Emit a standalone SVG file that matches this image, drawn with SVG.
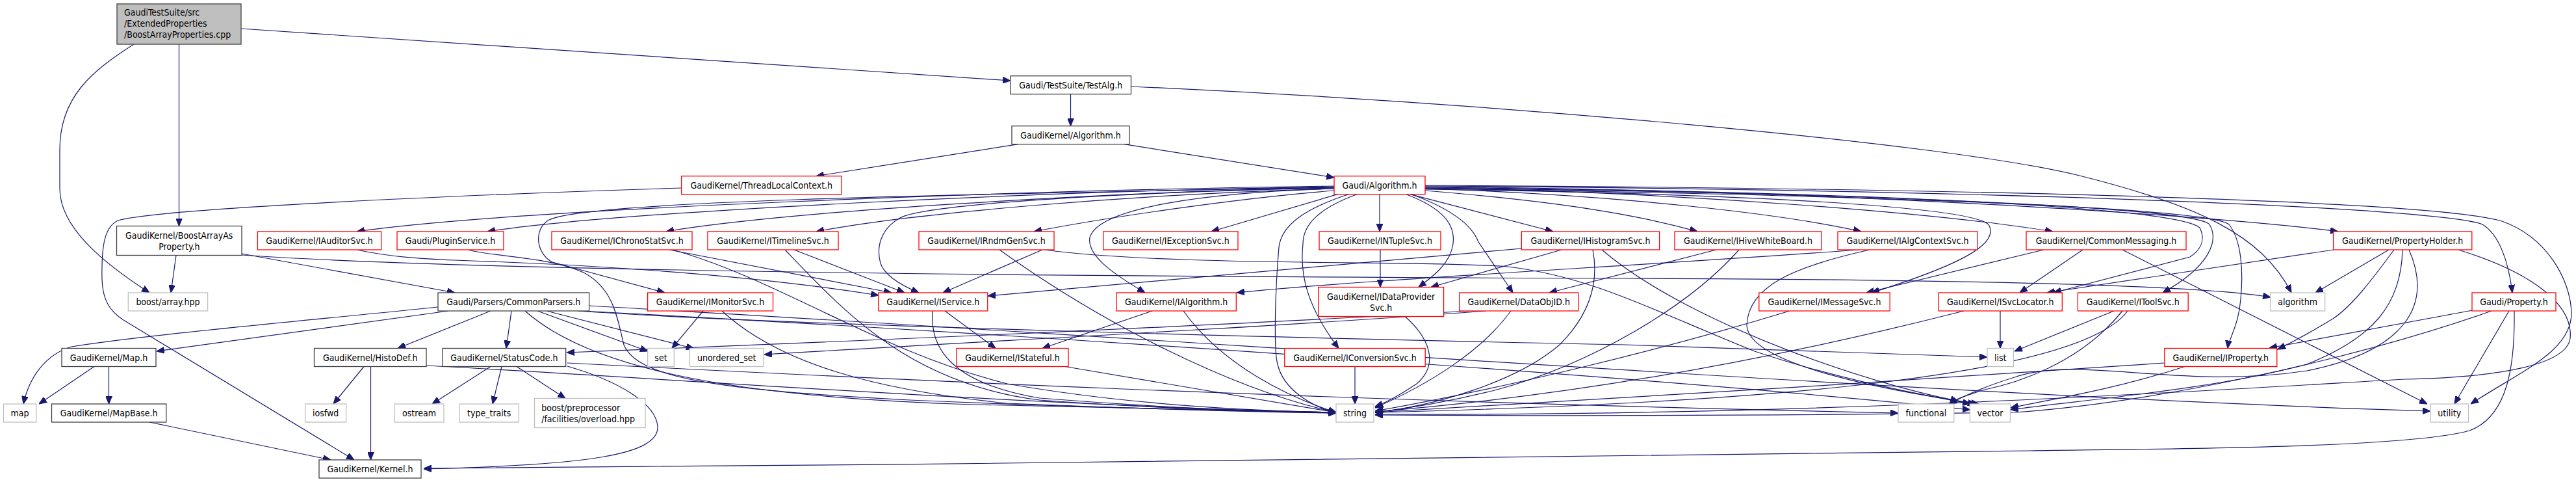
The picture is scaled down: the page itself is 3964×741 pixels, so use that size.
<svg xmlns="http://www.w3.org/2000/svg" width="3964" height="741" viewBox="0 0 3964 741">
<style>
rect{fill:#fff;stroke-width:1.3}
.k rect{stroke:#404040}
.r rect{stroke:#ff0000}
.g rect{stroke:#bfbfbf}
.root rect{fill:#bfbfbf;stroke:#404040}
text{font-family:'DejaVu Sans Condensed','Liberation Sans',Arial,sans-serif;font-size:14px;fill:#000;text-anchor:middle}
text.l{text-anchor:start}
#edges path{fill:none;stroke:#191970;stroke-width:1.2;marker-end:url(#a)}
</style>
<defs>
<marker id="a" markerUnits="userSpaceOnUse" markerWidth="12" markerHeight="10" refX="11" refY="4.5" orient="auto" viewBox="0 0 11 9"><path d="M0,0 L11,4.5 L0,9 z" fill="#191970" stroke="#191970" stroke-width="1"/></marker>
</defs>
<rect x="0" y="0" width="3964" height="741" style="fill:#fff;stroke:none"/>
<g id="edges">
<path d="M206,68 C140,110 92,150 92,230 L92,290 C92,350 160,405 230,450"/>
<path d="M275.5,68 L275.5,347.5"/>
<path d="M371,44 L1555,124"/>
<path d="M1647.5,144.7 L1647.5,193.7"/>
<path d="M1740.5,133 C2300,158 3000,220 3200,270 C3380,315 3480,360 3526,450"/>
<path d="M1567,221.7 L1256,270.7"/>
<path d="M1730,221.7 L2053,273"/>
<path d="M1048.6,289 C700,300 260,320 185,338 C160,345 156,380 157,430 C158,460 168,478 190,492 L545,707"/>
<path d="M2053,286 C1600,292 800,320 549,356"/>
<path d="M2053,287 C1600,294 950,325 750,356"/>
<path d="M2053,288 C1700,296 1200,325 1025,356"/>
<path d="M2053,290 C1750,298 1400,328 1256,356"/>
<path d="M2053,293 C1900,305 1700,335 1591,356"/>
<path d="M2058,298.7 L1864,356"/>
<path d="M2123,298.7 L2123,356"/>
<path d="M2170,298.7 L2390,356"/>
<path d="M2193,293 C2400,310 2520,330 2612,356"/>
<path d="M2193,290 C2500,300 2750,330 2864,356"/>
<path d="M2193,289 C2600,295 3000,330 3159,356"/>
<path d="M2193,287 C2800,292 3400,330 3598,356"/>
<path d="M2053,289 C1700,296 1420,315 1385,335 C1355,352 1348,380 1355,405 C1362,425 1390,440 1414,450"/>
<path d="M2053,288 C1400,300 900,310 845,338 C820,352 825,390 850,403 L1023,450"/>
<path d="M2053,290 C1850,296 1690,320 1677,365 C1672,395 1720,425 1762,450"/>
<path d="M2075,298.7 C2010,320 1972,345 1968,380 C1962,450 1960,540 1966,560 C1975,600 2020,625 2056,635"/>
<path d="M2088,298.7 C2030,320 2005,345 2005,375 C2000,420 2010,470 2060,535.5"/>
<path d="M2164,298.7 C2220,320 2240,345 2236,375 C2232,405 2205,425 2183,441.5"/>
<path d="M2172,298.7 C2230,320 2265,345 2275,372 L2328,450"/>
<path d="M2193,291 C2700,298 3030,318 3060,345 C3075,370 3040,400 2880,450"/>
<path d="M2193,288 C2900,295 3350,320 3385,350 C3395,370 3385,385 3370,395 L3160,450"/>
<path d="M2193,289 C2900,297 3380,320 3400,345 C3415,370 3400,410 3328,450"/>
<path d="M2193,290 C2900,300 3400,320 3430,345 C3450,370 3452,420 3448,460 C3445,500 3430,520 3428,535.5"/>
<path d="M2193,286 C3100,292 3760,320 3820,345 C3845,360 3860,400 3866,450"/>
<path d="M2193,285 C3100,290 3750,310 3850,340 C3920,365 3955,430 3957,480 C3958,540 3880,570 3802,621"/>
<path d="M271,392.5 L263,450"/>
<path d="M372,390 L700,450"/>
<path d="M372,392 C700,415 1500,425 2500,428 C3100,430 3400,440 3494,457"/>
<path d="M549,384 C600,395 650,398 700,400 C1000,410 1200,430 1352,454"/>
<path d="M720,384 C760,395 850,395 900,420 C945,445 950,490 960,530 C980,580 1100,600 1400,615 C1700,628 1950,633 2056,634"/>
<path d="M1030,384 L1372,450"/>
<path d="M1035,384 C1200,430 1350,540 1550,590 C1750,625 1950,632 2056,634"/>
<path d="M1222,384 L1392,450"/>
<path d="M1208,384 C1300,480 1400,590 1600,615 C1800,630 1980,633 2056,634"/>
<path d="M1604,384 L1451,450"/>
<path d="M1538,384 C1700,500 1900,600 2056,634"/>
<path d="M1607,384 C1800,410 2200,400 2320,410 C2450,425 2550,480 2700,540 C2850,590 2980,610 3032,621"/>
<path d="M2124,384 L2124,441.5"/>
<path d="M2342,382 L1520,455"/>
<path d="M2403,384 L2202,441.5"/>
<path d="M2451,384 C2460,430 2450,480 2400,530 C2330,590 2200,625 2116,634"/>
<path d="M2465,384 C2600,500 2900,600 3040,621"/>
<path d="M2641,384 L2384,450"/>
<path d="M2676,384 C2600,470 2450,560 2300,600 C2220,620 2150,630 2116,634"/>
<path d="M2862,384 C2500,410 2100,430 1903,450"/>
<path d="M2877,384 C2760,410 2690,440 2688,500 C2690,560 2900,600 3045,621"/>
<path d="M3145,384 L2872,450"/>
<path d="M3205,384 L3108,450"/>
<path d="M3266,384 L3735,621"/>
<path d="M3591,384 L3150,450"/>
<path d="M3676,384 L3563,450"/>
<path d="M3684,384 C3650,430 3620,470 3590,490 C3565,505 3540,520 3505,537"/>
<path d="M3697,384 C3695,470 3650,520 3550,560 C3400,600 3200,615 3094,630"/>
<path d="M3707,384 C3745,470 3700,540 3550,570 C3350,600 3200,545 3100,580 C3050,595 3020,610 3000,621"/>
<path d="M3783,384 C3900,420 3960,470 3955,520 C3950,560 3850,580 3700,583 C3400,600 2800,640 2116,637"/>
<path d="M3805,477 L3492,535"/>
<path d="M3861,478 L3777,621"/>
<path d="M3834,478 C3600,560 3300,620 3100,634 C2700,640 2300,639 2116,638"/>
<path d="M3869,478 C3870,560 3860,640 3800,662 C3700,690 3300,690 3124,693 C2500,705 1500,713 652,720"/>
<path d="M674,472 C500,490 220,515 110,533 C70,545 45,580 36,621"/>
<path d="M690,478 L241,540"/>
<path d="M755,478 L612,535.5"/>
<path d="M787,478 L779,535.5"/>
<path d="M827,478 L997,540"/>
<path d="M841,478 L1068,536"/>
<path d="M808,478 C900,560 1100,610 1500,622 C1800,630 1950,633 2056,634"/>
<path d="M889,478 C1200,500 2000,520 2500,530 C2800,540 2950,546 3058,549"/>
<path d="M895,478 C1500,510 2500,575 3032,630"/>
<path d="M906,470 C1800,520 3000,610 3740,632"/>
<path d="M1082,478 L1034,535.5"/>
<path d="M1111,478 C1200,560 1350,600 1550,620 C1800,630 1950,634 2056,635"/>
<path d="M1435,478 C1430,540 1470,590 1600,612 C1800,628 1950,633 2056,635"/>
<path d="M1454,478 L1532,535.5"/>
<path d="M1773,478 L1604,535.5"/>
<path d="M1821,478 C1880,560 1980,610 2056,634"/>
<path d="M2162,486.5 C2200,520 2215,560 2180,590 C2150,610 2130,620 2116,625"/>
<path d="M2325,478 C2280,540 2200,590 2116,627"/>
<path d="M2287,478 C2000,500 1600,520 1176,545"/>
<path d="M2260,478 C1900,500 1300,525 872,542"/>
<path d="M2754,478 C2550,540 2300,600 2116,632"/>
<path d="M3078,478 L3078,535.5"/>
<path d="M3022,478 C2700,560 2400,610 2116,633"/>
<path d="M3253,478 L3100,540"/>
<path d="M3266,478 C3200,560 3100,590 3050,600 C3020,610 3005,615 3000,621"/>
<path d="M3274,478 C3200,580 2700,620 2116,634"/>
<path d="M1639,563.5 L2056,634"/>
<path d="M2085,563.5 L2085,621"/>
<path d="M3331,558 C3000,580 2400,620 2116,634"/>
<path d="M3362,563.5 C3250,600 3150,615 3094,627"/>
<path d="M755,563.5 L665,621"/>
<path d="M772,563.5 L758,621"/>
<path d="M795,563.5 L870,612.5"/>
<path d="M873,563 C950,585 1010,620 1012,656 C1014,700 900,715 652,721"/>
<path d="M873,558 C1300,580 2000,615 2921,635"/>
<path d="M560,563.5 L513,621"/>
<path d="M570.5,563.5 L570.5,707"/>
<path d="M656,562 C1000,580 1600,625 2056,634"/>
<path d="M145,563.5 L60,621"/>
<path d="M167.5,563.5 L167.5,621"/>
<path d="M230,649 L509,707"/>
</g>
<g id="n0" class="root"><rect x="180" y="6" width="191" height="62"/><text class="l" x="191" y="23.5">GaudiTestSuite/src</text><text class="l" x="191" y="40.5">/ExtendedProperties</text><text class="l" x="191" y="57.5">/BoostArrayProperties.cpp</text></g>
<g id="n1" class="k"><rect x="1555" y="116.7" width="185.5" height="28"/><text x="1647.75" y="135.7">Gaudi/TestSuite/TestAlg.h</text></g>
<g id="n2" class="k"><rect x="1557" y="193.7" width="181" height="28"/><text x="1647.5" y="212.7">GaudiKernel/Algorithm.h</text></g>
<g id="n3" class="r"><rect x="1048.6" y="270.7" width="246.4" height="28"/><text x="1171.8" y="289.7">GaudiKernel/ThreadLocalContext.h</text></g>
<g id="n4" class="r"><rect x="2053" y="270.7" width="140" height="28"/><text x="2123" y="289.7">Gaudi/Algorithm.h</text></g>
<g id="n5" class="k"><rect x="179.5" y="347.5" width="192.5" height="45"/><text x="275.75" y="366.5">GaudiKernel/BoostArrayAs</text><text x="275.75" y="383.5">Property.h</text></g>
<g id="n6" class="r"><rect x="396.4" y="356" width="190.2" height="28"/><text x="491.5" y="375">GaudiKernel/IAuditorSvc.h</text></g>
<g id="n7" class="r"><rect x="611" y="356" width="164" height="28"/><text x="693" y="375">Gaudi/PluginService.h</text></g>
<g id="n8" class="r"><rect x="849" y="356" width="216" height="28"/><text x="957" y="375">GaudiKernel/IChronoStatSvc.h</text></g>
<g id="n9" class="r"><rect x="1089" y="356" width="201" height="28"/><text x="1189.5" y="375">GaudiKernel/ITimelineSvc.h</text></g>
<g id="n10" class="r"><rect x="1414" y="356" width="208" height="28"/><text x="1518" y="375">GaudiKernel/IRndmGenSvc.h</text></g>
<g id="n11" class="r"><rect x="1697.7" y="356" width="207.3" height="28"/><text x="1801.35" y="375">GaudiKernel/IExceptionSvc.h</text></g>
<g id="n12" class="r"><rect x="2030" y="356" width="187" height="28"/><text x="2123.5" y="375">GaudiKernel/INTupleSvc.h</text></g>
<g id="n13" class="r"><rect x="2341.4" y="356" width="212.2" height="28"/><text x="2447.5" y="375">GaudiKernel/IHistogramSvc.h</text></g>
<g id="n14" class="r"><rect x="2577" y="356" width="226" height="28"/><text x="2690" y="375">GaudiKernel/IHiveWhiteBoard.h</text></g>
<g id="n15" class="r"><rect x="2828" y="356" width="215" height="28"/><text x="2935.5" y="375">GaudiKernel/IAlgContextSvc.h</text></g>
<g id="n16" class="r"><rect x="3118" y="356" width="246" height="28"/><text x="3241" y="375">GaudiKernel/CommonMessaging.h</text></g>
<g id="n17" class="r"><rect x="3590.6" y="356" width="213.2" height="28"/><text x="3697.2" y="375">GaudiKernel/PropertyHolder.h</text></g>
<g id="n18" class="g"><rect x="197.3" y="450" width="122.3" height="28"/><text x="258.45" y="469">boost/array.hpp</text></g>
<g id="n19" class="k"><rect x="674" y="450" width="232.6" height="28"/><text x="790.3" y="469">Gaudi/Parsers/CommonParsers.h</text></g>
<g id="n20" class="r"><rect x="996.6" y="450" width="192.9" height="28"/><text x="1093" y="469">GaudiKernel/IMonitorSvc.h</text></g>
<g id="n21" class="r"><rect x="1351.8" y="450" width="168" height="28"/><text x="1435.8" y="469">GaudiKernel/IService.h</text></g>
<g id="n22" class="r"><rect x="1718" y="450" width="184.3" height="28"/><text x="1810.15" y="469">GaudiKernel/IAlgorithm.h</text></g>
<g id="n23" class="r"><rect x="2028.7" y="441.5" width="192.9" height="45"/><text x="2125.15" y="460.5">GaudiKernel/IDataProvider</text><text x="2125.15" y="477.5">Svc.h</text></g>
<g id="n24" class="r"><rect x="2245.7" y="450" width="183" height="28"/><text x="2337.2" y="469">GaudiKernel/DataObjID.h</text></g>
<g id="n25" class="r"><rect x="2706.8" y="450" width="201.4" height="28"/><text x="2807.5" y="469">GaudiKernel/IMessageSvc.h</text></g>
<g id="n26" class="r"><rect x="2983.2" y="450" width="190.1" height="28"/><text x="3078.25" y="469">GaudiKernel/ISvcLocator.h</text></g>
<g id="n27" class="r"><rect x="3197.4" y="450" width="169.8" height="28"/><text x="3282.3" y="469">GaudiKernel/IToolSvc.h</text></g>
<g id="n28" class="g"><rect x="3493.6" y="450" width="84.1" height="28"/><text x="3535.65" y="469">algorithm</text></g>
<g id="n29" class="r"><rect x="3804" y="450" width="129" height="28"/><text x="3868.5" y="469">Gaudi/Property.h</text></g>
<g id="n30" class="k"><rect x="95" y="535.5" width="145" height="28"/><text x="167.5" y="554.5">GaudiKernel/Map.h</text></g>
<g id="n31" class="k"><rect x="483.5" y="535.5" width="172.5" height="28"/><text x="569.75" y="554.5">GaudiKernel/HistoDef.h</text></g>
<g id="n32" class="k"><rect x="681" y="535.5" width="189.7" height="28"/><text x="775.85" y="554.5">GaudiKernel/StatusCode.h</text></g>
<g id="n33" class="g"><rect x="996.6" y="535.5" width="40.7" height="28"/><text x="1016.95" y="554.5">set</text></g>
<g id="n34" class="g"><rect x="1061.4" y="535.5" width="113.6" height="28"/><text x="1118.2" y="554.5">unordered_set</text></g>
<g id="n35" class="r"><rect x="1472" y="535.5" width="172" height="28"/><text x="1558" y="554.5">GaudiKernel/IStateful.h</text></g>
<g id="n36" class="r"><rect x="1976.8" y="535.5" width="216.4" height="28"/><text x="2085" y="554.5">GaudiKernel/IConversionSvc.h</text></g>
<g id="n37" class="g"><rect x="3058" y="535.5" width="40.4" height="28"/><text x="3078.2" y="554.5">list</text></g>
<g id="n38" class="r"><rect x="3330.8" y="535.5" width="173" height="28"/><text x="3417.3" y="554.5">GaudiKernel/IProperty.h</text></g>
<g id="n39" class="g"><rect x="5.4" y="621" width="50.4" height="28"/><text x="30.6" y="640">map</text></g>
<g id="n40" class="k"><rect x="79.5" y="621" width="176.3" height="28"/><text x="167.65" y="640">GaudiKernel/MapBase.h</text></g>
<g id="n41" class="g"><rect x="469.6" y="621" width="63" height="28"/><text x="501.1" y="640">iosfwd</text></g>
<g id="n42" class="g"><rect x="607" y="621" width="76" height="28"/><text x="645" y="640">ostream</text></g>
<g id="n43" class="g"><rect x="707" y="621" width="91.4" height="28"/><text x="752.7" y="640">type_traits</text></g>
<g id="n44" class="g"><rect x="822.5" y="612.5" width="170.5" height="45"/><text class="l" x="833.2" y="631.5">boost/preprocessor</text><text class="l" x="833.2" y="648.5">/facilities/overload.hpp</text></g>
<g id="n45" class="g"><rect x="2056" y="621" width="58" height="28"/><text x="2085" y="640">string</text></g>
<g id="n46" class="g"><rect x="2921" y="621" width="85.8" height="28"/><text x="2963.9" y="640">functional</text></g>
<g id="n47" class="g"><rect x="3031.4" y="621" width="62.1" height="28"/><text x="3062.45" y="640">vector</text></g>
<g id="n48" class="g"><rect x="3740" y="621" width="58.5" height="28"/><text x="3769.25" y="640">utility</text></g>
<g id="n49" class="k"><rect x="491" y="707" width="157" height="28"/><text x="569.5" y="726">GaudiKernel/Kernel.h</text></g>
</svg>
